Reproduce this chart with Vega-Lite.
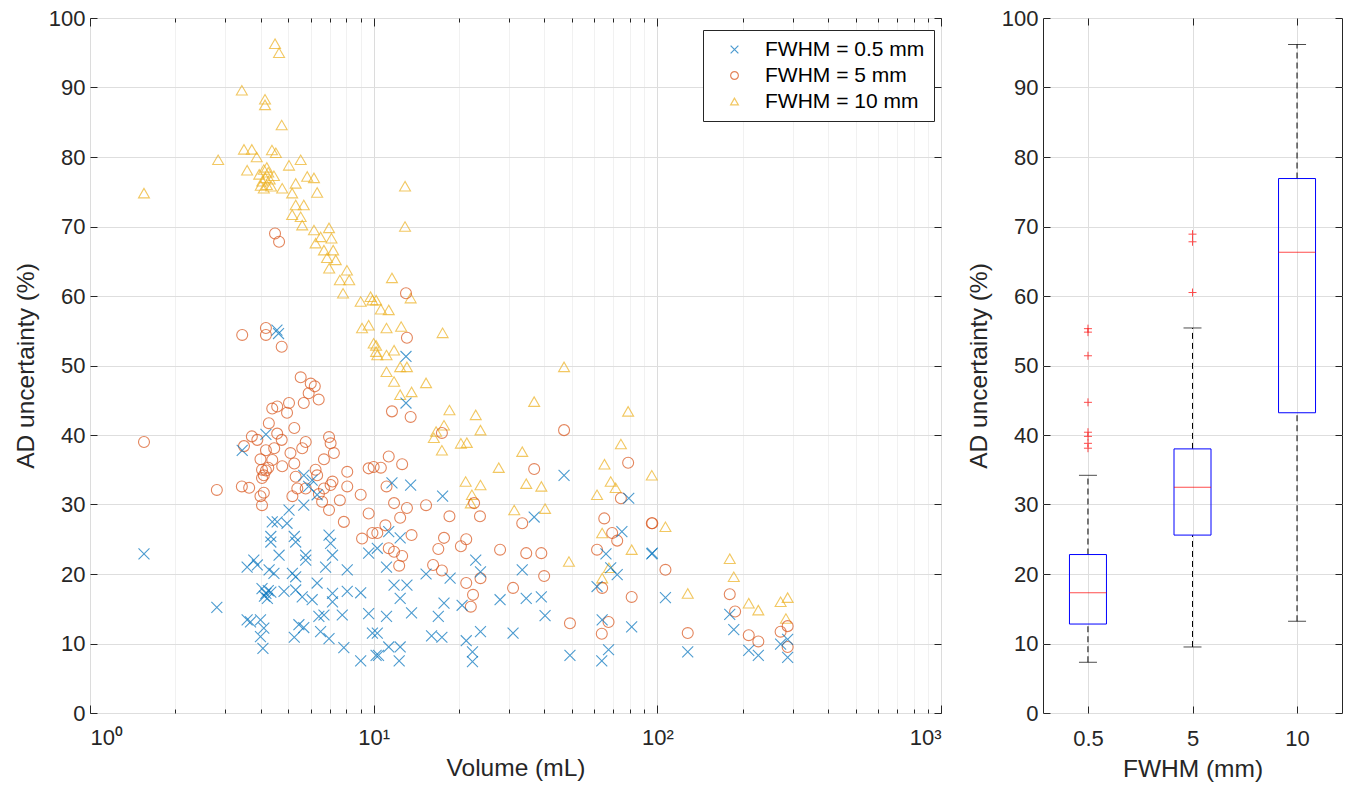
{
"$schema":"https://vega.github.io/schema/vega-lite/v6.json",
"background":"white",
"padding":{"left":12,"top":6,"right":4,"bottom":4},
"spacing":23,
"config":{
 "font":"Liberation Sans",
 "view":{"stroke":"#262626","strokeWidth":1},
 "axis":{"labelFont":"Liberation Sans","titleFont":"Liberation Sans","labelFontSize":22,"titleFontSize":24.5,"titleFontWeight":"normal","labelColor":"#262626","titleColor":"#262626","domainColor":"#262626","tickColor":"#262626","gridColor":"#dedede","tickSize":-7,"domain":false},
 "axisX":{"labelPadding":22},
 "axisY":{"labelPadding":12}
},
"datasets":{
 "scatter":[
{"s":"10","v":1.55,"u":74.8},{"s":"10","v":2.83,"u":79.6},{"s":"10","v":3.43,"u":89.6},{"s":"10","v":3.49,"u":81.1},{"s":"10","v":3.72,"u":81.1},{"s":"10","v":3.87,"u":80.0},{"s":"10","v":3.58,"u":78.1},{"s":"10","v":4.49,"u":96.3},{"s":"10","v":4.64,"u":95.0},{"s":"10","v":4.14,"u":88.3},{"s":"10","v":4.14,"u":87.5},{"s":"10","v":4.74,"u":84.6},{"s":"10","v":4.38,"u":81.0},{"s":"10","v":4.52,"u":80.6},{"s":"10","v":5.03,"u":78.8},{"s":"10","v":5.53,"u":79.6},{"s":"10","v":3.95,"u":77.5},{"s":"10","v":4.05,"u":76.5},{"s":"10","v":4.1,"u":78.2},{"s":"10","v":4.15,"u":77.0},{"s":"10","v":4.2,"u":76.0},{"s":"10","v":4.25,"u":77.8},{"s":"10","v":4.3,"u":76.8},{"s":"10","v":4.35,"u":75.8},{"s":"10","v":4.0,"u":75.9},{"s":"10","v":4.2,"u":78.5},{"s":"10","v":4.45,"u":77.3},{"s":"10","v":4.1,"u":75.5},{"s":"10","v":4.76,"u":75.5},{"s":"10","v":5.31,"u":76.2},{"s":"10","v":5.83,"u":77.2},{"s":"10","v":6.16,"u":77.0},{"s":"10","v":6.32,"u":74.9},{"s":"10","v":5.16,"u":74.8},{"s":"10","v":5.31,"u":73.1},{"s":"10","v":5.67,"u":73.1},{"s":"10","v":5.16,"u":71.7},{"s":"10","v":5.53,"u":71.4},{"s":"10","v":5.6,"u":70.2},{"s":"10","v":6.16,"u":69.5},{"s":"10","v":6.96,"u":69.8},{"s":"10","v":6.5,"u":68.5},{"s":"10","v":7.1,"u":68.3},{"s":"10","v":6.24,"u":67.6},{"s":"10","v":6.68,"u":66.6},{"s":"10","v":7.2,"u":66.6},{"s":"10","v":6.85,"u":65.5},{"s":"10","v":7.35,"u":65.2},{"s":"10","v":6.97,"u":64.0},{"s":"10","v":8.05,"u":63.7},{"s":"10","v":7.6,"u":62.3},{"s":"10","v":8.2,"u":62.3},{"s":"10","v":7.8,"u":60.4},{"s":"10","v":9.0,"u":59.2},{"s":"10","v":9.75,"u":59.9},{"s":"10","v":9.9,"u":59.4},{"s":"10","v":9.1,"u":55.4},{"s":"10","v":9.6,"u":55.8},{"s":"10","v":10.0,"u":53.2},{"s":"10","v":10.2,"u":52.0},{"s":"10","v":12.9,"u":75.8},{"s":"10","v":12.9,"u":70.0},{"s":"10","v":11.6,"u":62.6},{"s":"10","v":13.5,"u":59.7},{"s":"10","v":10.2,"u":59.4},{"s":"10","v":10.6,"u":58.1},{"s":"10","v":11.3,"u":58.0},{"s":"10","v":11.1,"u":55.4},{"s":"10","v":12.5,"u":55.6},{"s":"10","v":17.5,"u":54.7},{"s":"10","v":10.2,"u":52.9},{"s":"10","v":10.3,"u":51.5},{"s":"10","v":11.8,"u":52.2},{"s":"10","v":11.1,"u":51.5},{"s":"10","v":12.4,"u":49.8},{"s":"10","v":13.1,"u":49.8},{"s":"10","v":11.1,"u":49.1},{"s":"10","v":46.9,"u":49.8},{"s":"10","v":11.8,"u":47.7},{"s":"10","v":15.3,"u":47.5},{"s":"10","v":12.4,"u":45.8},{"s":"10","v":13.6,"u":46.2},{"s":"10","v":36.8,"u":44.8},{"s":"10","v":18.5,"u":43.6},{"s":"10","v":22.9,"u":42.9},{"s":"10","v":78.9,"u":43.4},{"s":"10","v":23.8,"u":40.7},{"s":"10","v":17.7,"u":41.4},{"s":"10","v":16.6,"u":40.5},{"s":"10","v":16.3,"u":39.6},{"s":"10","v":17.4,"u":37.8},{"s":"10","v":20.3,"u":38.8},{"s":"10","v":21.3,"u":38.9},{"s":"10","v":33.4,"u":37.6},{"s":"10","v":74.4,"u":38.7},{"s":"10","v":27.6,"u":35.3},{"s":"10","v":65.1,"u":35.8},{"s":"10","v":95.6,"u":34.2},{"s":"10","v":21.1,"u":33.3},{"s":"10","v":23.8,"u":32.8},{"s":"10","v":34.5,"u":33.0},{"s":"10","v":39.0,"u":32.6},{"s":"10","v":61.3,"u":31.4},{"s":"10","v":68.5,"u":33.3},{"s":"10","v":71.3,"u":32.4},{"s":"10","v":22.2,"u":31.4},{"s":"10","v":22.0,"u":30.2},{"s":"10","v":31.3,"u":29.2},{"s":"10","v":40.2,"u":29.4},{"s":"10","v":63.9,"u":25.9},{"s":"10","v":81.2,"u":23.5},{"s":"10","v":48.8,"u":21.8},{"s":"10","v":67.5,"u":20.9},{"s":"10","v":63.9,"u":19.4},{"s":"10","v":106.8,"u":26.8},{"s":"10","v":180,"u":22.2},{"s":"10","v":186,"u":19.6},{"s":"10","v":128,"u":17.2},{"s":"10","v":210,"u":15.8},{"s":"10","v":227,"u":14.8},{"s":"10","v":272,"u":16.0},{"s":"10","v":288,"u":16.6},{"s":"10","v":284,"u":13.6},
{"s":"5","v":1.55,"u":39.0},{"s":"5","v":2.8,"u":32.1},{"s":"5","v":3.43,"u":32.6},{"s":"5","v":3.64,"u":32.4},{"s":"5","v":3.49,"u":38.4},{"s":"5","v":3.72,"u":39.8},{"s":"5","v":3.44,"u":54.4},{"s":"5","v":4.17,"u":55.4},{"s":"5","v":4.17,"u":54.4},{"s":"5","v":4.74,"u":52.7},{"s":"5","v":4.49,"u":69.0},{"s":"5","v":4.64,"u":67.8},{"s":"5","v":5.53,"u":48.3},{"s":"5","v":6.0,"u":47.4},{"s":"5","v":6.2,"u":47.0},{"s":"5","v":5.9,"u":46.0},{"s":"5","v":6.4,"u":45.1},{"s":"5","v":5.03,"u":44.6},{"s":"5","v":5.67,"u":44.6},{"s":"5","v":4.39,"u":43.8},{"s":"5","v":4.57,"u":44.1},{"s":"5","v":4.95,"u":43.2},{"s":"5","v":4.27,"u":41.7},{"s":"5","v":5.25,"u":41.0},{"s":"5","v":4.57,"u":40.2},{"s":"5","v":3.89,"u":39.3},{"s":"5","v":4.74,"u":39.3},{"s":"5","v":5.76,"u":39.0},{"s":"5","v":6.96,"u":39.7},{"s":"5","v":7.05,"u":38.8},{"s":"5","v":4.17,"u":37.8},{"s":"5","v":4.46,"u":38.1},{"s":"5","v":5.09,"u":37.4},{"s":"5","v":5.6,"u":38.1},{"s":"5","v":7.24,"u":37.4},{"s":"5","v":3.99,"u":36.5},{"s":"5","v":4.39,"u":36.4},{"s":"5","v":4.76,"u":35.5},{"s":"5","v":5.25,"u":35.9},{"s":"5","v":6.68,"u":36.5},{"s":"5","v":4.04,"u":35.0},{"s":"5","v":4.17,"u":34.9},{"s":"5","v":4.25,"u":35.3},{"s":"5","v":4.1,"u":34.2},{"s":"5","v":8.07,"u":34.7},{"s":"5","v":9.6,"u":35.2},{"s":"5","v":10.0,"u":35.4},{"s":"5","v":5.31,"u":34.0},{"s":"5","v":6.24,"u":35.0},{"s":"5","v":4.04,"u":33.8},{"s":"5","v":7.16,"u":33.3},{"s":"5","v":6.32,"u":34.2},{"s":"5","v":4.1,"u":31.7},{"s":"5","v":5.38,"u":32.3},{"s":"5","v":5.76,"u":32.3},{"s":"5","v":6.68,"u":32.3},{"s":"5","v":7.05,"u":32.8},{"s":"5","v":8.07,"u":32.6},{"s":"5","v":9.0,"u":31.4},{"s":"5","v":3.99,"u":31.2},{"s":"5","v":5.17,"u":31.2},{"s":"5","v":6.41,"u":31.5},{"s":"5","v":4.04,"u":29.9},{"s":"5","v":6.58,"u":30.4},{"s":"5","v":7.6,"u":30.6},{"s":"5","v":6.96,"u":29.2},{"s":"5","v":9.6,"u":28.7},{"s":"5","v":7.85,"u":27.5},{"s":"5","v":9.1,"u":25.1},{"s":"5","v":9.9,"u":25.9},{"s":"5","v":13.0,"u":60.4},{"s":"5","v":13.1,"u":54.0},{"s":"5","v":11.6,"u":43.4},{"s":"5","v":13.5,"u":42.6},{"s":"5","v":46.9,"u":40.7},{"s":"5","v":17.4,"u":40.3},{"s":"5","v":11.3,"u":36.9},{"s":"5","v":12.6,"u":35.8},{"s":"5","v":10.6,"u":35.3},{"s":"5","v":36.8,"u":35.1},{"s":"5","v":78.9,"u":36.0},{"s":"5","v":11.1,"u":32.6},{"s":"5","v":11.8,"u":30.2},{"s":"5","v":13.1,"u":29.5},{"s":"5","v":15.3,"u":29.9},{"s":"5","v":12.4,"u":28.1},{"s":"5","v":18.5,"u":28.3},{"s":"5","v":23.7,"u":28.3},{"s":"5","v":22.6,"u":30.2},{"s":"5","v":33.4,"u":27.3},{"s":"5","v":65.0,"u":28.0},{"s":"5","v":74.4,"u":30.9},{"s":"5","v":95.6,"u":27.3},{"s":"5","v":11.0,"u":27.0},{"s":"5","v":10.3,"u":25.9},{"s":"5","v":13.6,"u":25.6},{"s":"5","v":17.7,"u":25.2},{"s":"5","v":21.2,"u":25.0},{"s":"5","v":69.3,"u":25.9},{"s":"5","v":72.2,"u":24.8},{"s":"5","v":11.3,"u":23.7},{"s":"5","v":11.8,"u":23.2},{"s":"5","v":12.6,"u":22.6},{"s":"5","v":16.9,"u":23.6},{"s":"5","v":20.3,"u":24.0},{"s":"5","v":27.9,"u":23.5},{"s":"5","v":34.5,"u":23.0},{"s":"5","v":39.0,"u":23.0},{"s":"5","v":61.3,"u":23.5},{"s":"5","v":12.3,"u":21.2},{"s":"5","v":16.2,"u":21.3},{"s":"5","v":17.4,"u":20.5},{"s":"5","v":39.9,"u":19.7},{"s":"5","v":23.8,"u":19.4},{"s":"5","v":21.2,"u":18.7},{"s":"5","v":22.4,"u":17.0},{"s":"5","v":22.0,"u":15.3},{"s":"5","v":31.0,"u":18.0},{"s":"5","v":63.9,"u":18.0},{"s":"5","v":81.2,"u":16.7},{"s":"5","v":49.2,"u":12.9},{"s":"5","v":67.3,"u":13.1},{"s":"5","v":63.7,"u":11.4},{"s":"5","v":96,"u":27.3},{"s":"5","v":106.8,"u":20.6},{"s":"5","v":180,"u":17.1},{"s":"5","v":188,"u":14.6},{"s":"5","v":128,"u":11.5},{"s":"5","v":210,"u":11.2},{"s":"5","v":227,"u":10.3},{"s":"5","v":272,"u":11.7},{"s":"5","v":288,"u":12.5},{"s":"5","v":288,"u":9.5},
{"s":"0.5","v":1.55,"u":22.9},{"s":"0.5","v":2.8,"u":15.2},{"s":"0.5","v":3.44,"u":37.8},{"s":"0.5","v":4.56,"u":55.1},{"s":"0.5","v":4.62,"u":54.6},{"s":"0.5","v":13.0,"u":51.3},{"s":"0.5","v":13.0,"u":44.6},{"s":"0.5","v":46.9,"u":34.2},{"s":"0.5","v":4.17,"u":40.1},{"s":"0.5","v":5.67,"u":34.2},{"s":"0.5","v":6.07,"u":33.5},{"s":"0.5","v":5.9,"u":32.6},{"s":"0.5","v":6.32,"u":31.4},{"s":"0.5","v":5.67,"u":29.9},{"s":"0.5","v":5.03,"u":29.2},{"s":"0.5","v":4.39,"u":27.5},{"s":"0.5","v":4.57,"u":27.5},{"s":"0.5","v":4.95,"u":27.3},{"s":"0.5","v":4.34,"u":25.4},{"s":"0.5","v":5.25,"u":25.4},{"s":"0.5","v":6.96,"u":25.6},{"s":"0.5","v":3.58,"u":21.0},{"s":"0.5","v":3.78,"u":22.0},{"s":"0.5","v":3.89,"u":21.3},{"s":"0.5","v":4.64,"u":22.7},{"s":"0.5","v":4.28,"u":20.6},{"s":"0.5","v":4.45,"u":20.1},{"s":"0.5","v":5.17,"u":20.1},{"s":"0.5","v":5.76,"u":22.7},{"s":"0.5","v":5.76,"u":22.0},{"s":"0.5","v":7.05,"u":24.4},{"s":"0.5","v":7.16,"u":22.7},{"s":"0.5","v":6.77,"u":21.0},{"s":"0.5","v":8.07,"u":20.6},{"s":"0.5","v":4.34,"u":24.6},{"s":"0.5","v":5.31,"u":24.6},{"s":"0.5","v":9.6,"u":23.0},{"s":"0.5","v":4.04,"u":17.9},{"s":"0.5","v":4.22,"u":16.5},{"s":"0.5","v":4.17,"u":17.2},{"s":"0.5","v":4.12,"u":16.8},{"s":"0.5","v":4.25,"u":17.6},{"s":"0.5","v":4.34,"u":17.4},{"s":"0.5","v":4.83,"u":17.5},{"s":"0.5","v":5.31,"u":17.7},{"s":"0.5","v":5.31,"u":19.6},{"s":"0.5","v":5.6,"u":16.7},{"s":"0.5","v":6.07,"u":16.3},{"s":"0.5","v":6.32,"u":18.7},{"s":"0.5","v":7.16,"u":17.2},{"s":"0.5","v":7.16,"u":16.0},{"s":"0.5","v":8.07,"u":17.5},{"s":"0.5","v":9.0,"u":17.3},{"s":"0.5","v":3.58,"u":13.4},{"s":"0.5","v":3.68,"u":13.1},{"s":"0.5","v":3.99,"u":13.4},{"s":"0.5","v":4.1,"u":12.2},{"s":"0.5","v":3.99,"u":11.0},{"s":"0.5","v":4.07,"u":9.3},{"s":"0.5","v":5.45,"u":12.7},{"s":"0.5","v":5.67,"u":12.3},{"s":"0.5","v":5.25,"u":10.9},{"s":"0.5","v":6.41,"u":13.9},{"s":"0.5","v":6.68,"u":14.1},{"s":"0.5","v":6.5,"u":11.7},{"s":"0.5","v":6.96,"u":10.7},{"s":"0.5","v":7.75,"u":14.1},{"s":"0.5","v":7.85,"u":9.4},{"s":"0.5","v":9.0,"u":7.5},{"s":"0.5","v":9.6,"u":14.3},{"s":"0.5","v":9.9,"u":11.5},{"s":"0.5","v":10.2,"u":8.3},{"s":"0.5","v":11.6,"u":33.1},{"s":"0.5","v":13.5,"u":32.8},{"s":"0.5","v":17.5,"u":31.2},{"s":"0.5","v":36.8,"u":28.2},{"s":"0.5","v":11.3,"u":26.1},{"s":"0.5","v":12.4,"u":25.2},{"s":"0.5","v":79.3,"u":30.9},{"s":"0.5","v":75.0,"u":26.1},{"s":"0.5","v":10.3,"u":23.7},{"s":"0.5","v":22.9,"u":22.0},{"s":"0.5","v":23.8,"u":20.3},{"s":"0.5","v":33.4,"u":20.6},{"s":"0.5","v":65.9,"u":22.9},{"s":"0.5","v":95.6,"u":22.9},{"s":"0.5","v":15.3,"u":20.0},{"s":"0.5","v":18.6,"u":19.4},{"s":"0.5","v":11.1,"u":21.0},{"s":"0.5","v":68.5,"u":20.9},{"s":"0.5","v":72.2,"u":19.9},{"s":"0.5","v":11.8,"u":18.4},{"s":"0.5","v":13.1,"u":18.4},{"s":"0.5","v":12.4,"u":16.5},{"s":"0.5","v":17.7,"u":15.8},{"s":"0.5","v":20.5,"u":15.5},{"s":"0.5","v":27.9,"u":16.3},{"s":"0.5","v":34.5,"u":16.5},{"s":"0.5","v":39.0,"u":16.7},{"s":"0.5","v":61.3,"u":18.2},{"s":"0.5","v":11.1,"u":13.9},{"s":"0.5","v":13.6,"u":14.4},{"s":"0.5","v":16.9,"u":13.9},{"s":"0.5","v":40.2,"u":14.0},{"s":"0.5","v":63.9,"u":13.4},{"s":"0.5","v":81.2,"u":12.4},{"s":"0.5","v":10.3,"u":11.5},{"s":"0.5","v":16.0,"u":11.1},{"s":"0.5","v":17.4,"u":10.9},{"s":"0.5","v":21.2,"u":10.4},{"s":"0.5","v":23.8,"u":11.7},{"s":"0.5","v":31.0,"u":11.5},{"s":"0.5","v":11.3,"u":9.5},{"s":"0.5","v":12.4,"u":9.5},{"s":"0.5","v":10.4,"u":8.3},{"s":"0.5","v":12.3,"u":7.5},{"s":"0.5","v":22.3,"u":8.8},{"s":"0.5","v":22.3,"u":7.4},{"s":"0.5","v":49.2,"u":8.3},{"s":"0.5","v":67.3,"u":9.1},{"s":"0.5","v":63.7,"u":7.5},{"s":"0.5","v":96,"u":23.0},{"s":"0.5","v":106.8,"u":16.6},{"s":"0.5","v":180,"u":14.2},{"s":"0.5","v":186,"u":12.0},{"s":"0.5","v":128,"u":8.8},{"s":"0.5","v":210,"u":9.0},{"s":"0.5","v":227,"u":8.3},{"s":"0.5","v":272,"u":9.9},{"s":"0.5","v":288,"u":10.6},{"s":"0.5","v":288,"u":8.0}
 ],
 "box":[
  {"g":"0.5","lo":7.3,"q1":12.8,"med":17.3,"q3":22.8,"hi":34.2},
  {"g":"5","lo":9.5,"q1":25.6,"med":32.5,"q3":38.0,"hi":55.4},
  {"g":"10","lo":13.2,"q1":43.2,"med":66.3,"q3":76.9,"hi":96.2}
 ],
 "outliers":[
  {"g":"0.5","val":55.3},{"g":"0.5","val":54.8},{"g":"0.5","val":51.4},{"g":"0.5","val":44.7},{"g":"0.5","val":40.4},{"g":"0.5","val":39.8},{"g":"0.5","val":38.8},{"g":"0.5","val":38.1},
  {"g":"5","val":68.9},{"g":"5","val":67.8},{"g":"5","val":60.5}
 ]
},
"hconcat":[
 {
  "width":851,"height":695,
  "data":{"name":"scatter"},
  "layer":[
   {
    "mark":{"type":"point","filled":false,"strokeWidth":1.1,"size":120},
    "encoding":{
     "x":{"field":"v","type":"quantitative","scale":{"type":"log","domain":[1,1000]},
      "axis":{"orient":"bottom","title":"Volume (mL)","titlePadding":8,
       "values":[1,2,3,4,5,6,7,8,9,10,20,30,40,50,60,70,80,90,100,200,300,400,500,600,700,800,900,1000],
       "labelExpr":"datum.value==1?'10⁰':datum.value==10?'10¹':datum.value==100?'10²':datum.value==1000?'10³':''",
       "gridColor":{"condition":{"test":"datum.value==1||datum.value==10||datum.value==100||datum.value==1000","value":"#dcdcdc"},"value":"#f1f1f1"},
       "tickSize":{"condition":{"test":"datum.value==1||datum.value==10||datum.value==100||datum.value==1000","value":-8},"value":-4}}},
     "y":{"field":"u","type":"quantitative","scale":{"domain":[0,100]},
      "axis":{"orient":"left","title":"AD uncertainty (%)","values":[0,10,20,30,40,50,60,70,80,90,100],"titlePadding":10}},
     "color":{"field":"s","type":"nominal","scale":{"domain":["0.5","5","10"],"range":["#0072BD","#D95319","#EDB120"]},
      "legend":{"title":null,"orient":"none","legendX":613,"legendY":12,"strokeColor":"#262626","fillColor":"white","padding":9,"labelFontSize":21,"labelFont":"Liberation Sans","labelColor":"#000","symbolSize":60,"symbolStrokeWidth":1.2,"rowPadding":4,"labelExpr":"'FWHM = ' + datum.label + ' mm'","symbolOffset":12,"labelOffset":20}},
     "shape":{"field":"s","type":"nominal","scale":{"domain":["0.5","5","10"],"range":["M-1,-1L1,1M-1,1L1,-1","circle","triangle-up"]}}
    }
   },
   {
    "mark":{"type":"point","opacity":0},
    "encoding":{
     "x":{"field":"v","type":"quantitative","scale":{"type":"log","domain":[1,1000]},
      "axis":{"orient":"top","title":null,"labels":false,"grid":false,
       "values":[1,2,3,4,5,6,7,8,9,10,20,30,40,50,60,70,80,90,100,200,300,400,500,600,700,800,900,1000],
       "tickSize":{"condition":{"test":"datum.value==1||datum.value==10||datum.value==100||datum.value==1000","value":-8},"value":-4}}},
     "y":{"field":"u","type":"quantitative","scale":{"domain":[0,100]},
      "axis":{"orient":"right","title":null,"labels":false,"grid":false,"values":[0,10,20,30,40,50,60,70,80,90,100]}}
    }
   }
  ],
  "resolve":{"axis":{"x":"independent","y":"independent"}}
 },
 {
  "width":299,"height":695,
  "layer":[
   {
    "data":{"name":"box"},
    "mark":{"type":"rule","color":"#000","strokeDash":[6,4],"strokeWidth":1},
    "encoding":{
     "x":{"field":"g","type":"ordinal","scale":{"type":"point","domain":["0.5","5","10"],"padding":0.43},
      "axis":{"orient":"bottom","title":"FWHM (mm)","labelAngle":0,"grid":true,"titlePadding":8}},
     "y":{"field":"q3","type":"quantitative","scale":{"domain":[0,100]},
      "axis":{"orient":"left","title":"AD uncertainty (%)","values":[0,10,20,30,40,50,60,70,80,90,100],"titlePadding":10}},
     "y2":{"field":"hi"}
    }
   },
   {
    "data":{"name":"box"},
    "mark":{"type":"rule","color":"#000","strokeDash":[6,4],"strokeWidth":1},
    "encoding":{
     "x":{"field":"g","type":"ordinal","axis":null},
     "y":{"field":"lo","type":"quantitative","axis":null},
     "y2":{"field":"q1"}
    }
   },
   {
    "data":{"name":"box"},
    "mark":{"type":"bar","width":37,"fillOpacity":0,"stroke":"#0000FF","strokeWidth":1},
    "encoding":{
     "x":{"field":"g","type":"ordinal","axis":null},
     "y":{"field":"q1","type":"quantitative","axis":null},
     "y2":{"field":"q3"}
    }
   },
   {
    "data":{"name":"box"},
    "mark":{"type":"tick","size":37,"thickness":1,"color":"#FF0000","orient":"horizontal"},
    "encoding":{
     "x":{"field":"g","type":"ordinal","axis":null},
     "y":{"field":"med","type":"quantitative","axis":null}
    }
   },
   {
    "data":{"name":"box"},
    "mark":{"type":"tick","size":18,"thickness":1,"color":"#000","orient":"horizontal"},
    "encoding":{
     "x":{"field":"g","type":"ordinal","axis":null},
     "y":{"field":"hi","type":"quantitative","axis":null}
    }
   },
   {
    "data":{"name":"box"},
    "mark":{"type":"tick","size":18,"thickness":1,"color":"#000","orient":"horizontal"},
    "encoding":{
     "x":{"field":"g","type":"ordinal","axis":null},
     "y":{"field":"lo","type":"quantitative","axis":null}
    }
   },
   {
    "data":{"name":"outliers"},
    "mark":{"type":"point","filled":false,"shape":"M-1,0L1,0M0,-1L0,1","size":64,"color":"#FF0000","strokeWidth":1},
    "encoding":{
     "x":{"field":"g","type":"ordinal","axis":{"orient":"top","title":null,"labels":false,"grid":false}},
     "y":{"field":"val","type":"quantitative","axis":{"orient":"right","title":null,"labels":false,"grid":false,"values":[0,10,20,30,40,50,60,70,80,90,100]}}
    }
   }
  ],
  "resolve":{"axis":{"x":"independent","y":"independent"}}
 }
]
}
